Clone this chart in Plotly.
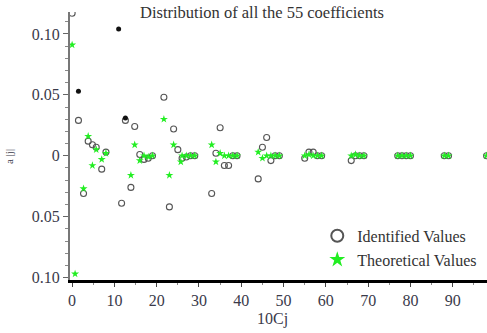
import plotly.graph_objects as go

# Identified values (open circles)
ident_x = [0, 1.5, 2.7, 3.8, 4.8, 5.7, 7, 8, 11.7, 12.6, 13.9, 14.8, 16, 17, 18, 19,
           21.7, 23, 24, 25, 26, 27, 28, 29, 33, 34, 35, 36, 37, 38, 39,
           44, 45, 46, 47, 48, 49, 55, 56, 57, 58, 59, 66, 67, 68, 69,
           77, 78, 79, 80, 88, 89, 98]
ident_y = [0.117, 0.029, -0.031, 0.012, 0.009, 0.007, -0.011, 0.003, -0.039, 0.029, -0.026, 0.024,
           0.001, -0.003, -0.002, 0.000,
           0.048, -0.042, 0.022, 0.005, -0.002, -0.001, 0.000, 0.000,
           -0.031, 0.002, 0.023, -0.008, -0.008, 0.000, 0.000,
           -0.019, 0.007, 0.015, -0.004, 0.000, 0.000,
           -0.002, 0.003, 0.003, 0.000, 0.000,
           -0.004, 0.000, 0.000, 0.000,
           0.000, 0.000, 0.000, 0.000, 0.000, 0.000, 0.000]

# Theoretical values (green stars)
theo_x = [0, 0.7, 2.7, 3.8, 4.8, 5.7, 7, 8, 13.9, 14.8, 16, 17, 18, 19,
          21.7, 23, 24, 25.7, 26, 27, 28, 29, 33, 34, 35, 36, 37, 38, 39,
          44, 45, 46, 47, 48, 49, 55, 56, 57, 58, 59, 66, 67, 68, 69,
          77, 78, 79, 80, 88, 89, 98]
theo_y = [0.091, -0.097, -0.027, 0.016, -0.008, 0.005, -0.003, 0.002, -0.016, 0.009,
          -0.004, 0.000, -0.001, 0.000,
          0.030, -0.016, 0.009, -0.005, 0.000, 0.000, 0.000, 0.000,
          0.009, -0.005, 0.002, 0.000, 0.000, 0.000, 0.000,
          0.003, -0.002, 0.000, 0.000, 0.000, 0.000,
          0.000, 0.001, 0.000, 0.000, 0.000,
          0.000, 0.001, 0.000, 0.000,
          0.000, 0.000, 0.000, 0.000, 0.000, 0.000, 0.000]

# Dark overlapping points
dark_x = [1.5, 11, 12.6]
dark_y = [0.053, 0.104, 0.031]

y_tickvals = [-0.10, -0.05, 0, 0.05, 0.10]
y_ticktext = ["0.10", "0.05", "0", "0.05", "0.10"]
x_tickvals = [0, 10, 20, 30, 40, 50, 60, 70, 80, 90]
x_ticktext = ["0", "10", "20", "30", "40", "50", "60", "70", "80", "90"]

serif = "Liberation Serif, Times New Roman, serif"
txt = "#3a3a4a"
fig = go.Figure()
fig.add_trace(go.Scatter(x=ident_x, y=ident_y, mode="markers", name="Identified Values",
                         marker=dict(symbol="circle-open", size=6, color="#555555",
                                     line=dict(width=1.1))))
fig.add_trace(go.Scatter(x=theo_x, y=theo_y, mode="markers", name="Theoretical Values",
                         marker=dict(symbol="star", size=6, color="#22ee22", line=dict(width=0))))
fig.add_trace(go.Scatter(x=dark_x, y=dark_y, mode="markers", showlegend=False,
                         marker=dict(symbol="circle", size=5, color="#111111")))

fig.update_layout(
    width=487, height=333,
    margin=dict(l=70, r=0, t=12, b=53, autoexpand=False),
    paper_bgcolor="white", plot_bgcolor="white",
    font=dict(family=serif, size=16, color=txt),
    showlegend=True,
    legend=dict(x=0.593, y=0.228, xanchor="left", yanchor="top",
                bgcolor="rgba(0,0,0,0)", font=dict(family=serif, size=16, color="#333333"),
                itemsizing="constant", tracegroupgap=0),
    xaxis=dict(range=[-0.5, 98.1], showgrid=False, zeroline=False, automargin=False,
               tickvals=x_tickvals, ticktext=x_ticktext,
               ticks="outside", ticklen=4, tickcolor="#444444",
               tickfont=dict(family=serif, size=16, color=txt),
               minor=dict(dtick=5, ticks="outside", ticklen=2, tickcolor="#888888"),
               showline=True, linecolor="black", linewidth=3),
    yaxis=dict(range=[-0.102, 0.118], showgrid=False, zeroline=False, automargin=False,
               tickvals=y_tickvals, ticktext=y_ticktext,
               ticks="outside", ticklen=5, tickcolor="#666666",
               tickfont=dict(family=serif, size=16, color=txt),
               minor=dict(dtick=0.01, ticks="outside", ticklen=3, tickcolor="#888888"),
               showline=True, linecolor="#777777", linewidth=2),
    annotations=[
        dict(text="Distribution of all the 55 coefficients", xref="paper", yref="paper",
             x=0.46, y=1.0, xanchor="center", yanchor="middle", showarrow=False,
             font=dict(family=serif, size=16.5, color="#333333")),
        dict(text="10Cj", xref="paper", yref="paper", x=0.485, y=-0.145,
             xanchor="center", yanchor="middle", showarrow=False,
             font=dict(family=serif, size=16, color=txt)),
        dict(text="a |j|", xref="paper", yref="paper", x=-0.148, y=0.46,
             xanchor="center", yanchor="middle", showarrow=False, textangle=-90,
             font=dict(family=serif, size=11, color=txt)),
    ],
)
fig.write_html("out.html", config={"displayModeBar": False},
               post_script="document.body.style.margin='0';")
